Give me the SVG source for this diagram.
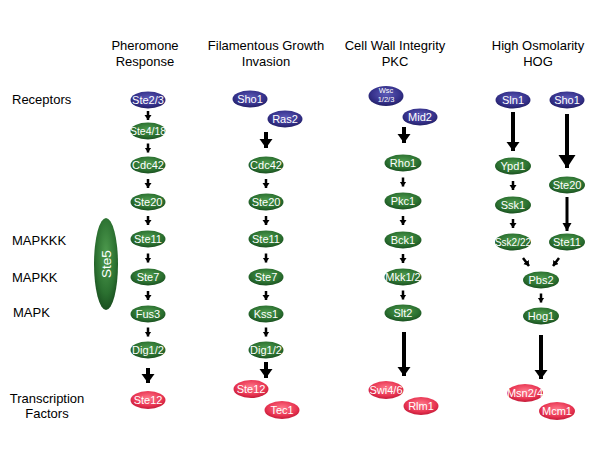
<svg xmlns="http://www.w3.org/2000/svg" width="600" height="450" viewBox="0 0 600 450">
<defs>
<radialGradient id="gG" cx="50%" cy="40%" r="60%"><stop offset="0" stop-color="#4f9c4f"/><stop offset="0.7" stop-color="#2b7030"/><stop offset="1" stop-color="#1a5020"/></radialGradient>
<radialGradient id="gB" cx="50%" cy="40%" r="60%"><stop offset="0" stop-color="#5d5ab8"/><stop offset="0.7" stop-color="#35318a"/><stop offset="1" stop-color="#221f66"/></radialGradient>
<radialGradient id="gR" cx="50%" cy="40%" r="60%"><stop offset="0" stop-color="#ff7a8c"/><stop offset="0.7" stop-color="#e83552"/><stop offset="1" stop-color="#c41a38"/></radialGradient>
<marker id="hS" markerUnits="userSpaceOnUse" markerWidth="8" markerHeight="8" refX="5" refY="3.5" orient="auto"><path d="M0,0 L5,3.5 L0,7 z" fill="#000"/></marker>
<marker id="hM" markerUnits="userSpaceOnUse" markerWidth="10" markerHeight="10" refX="8" refY="4.5" orient="auto"><path d="M0,0 L8,4.5 L0,9 z" fill="#000"/></marker>
<marker id="hL" markerUnits="userSpaceOnUse" markerWidth="14" markerHeight="14" refX="9" refY="6.5" orient="auto"><path d="M0,0 L9,6.5 L0,13 z" fill="#000"/></marker>
<marker id="hX" markerUnits="userSpaceOnUse" markerWidth="16" markerHeight="18" refX="13" refY="8.5" orient="auto"><path d="M0,0 L13,8.5 L0,17 z" fill="#000"/></marker>
</defs>
<style>
.lbl{font-family:"Liberation Sans",Arial,sans-serif;font-size:13px;fill:#000}
.hd{font-family:"Liberation Sans",Arial,sans-serif;font-size:13px;fill:#000;text-anchor:middle}
.nt{font-family:"Liberation Sans",Arial,sans-serif;font-size:11px;fill:#fff;text-anchor:middle}
.nt.sm{font-size:10.5px}
.nt.xs{font-size:10px}
.nt.t{font-size:7.5px}
.nt.big{font-size:13.5px}
.g{fill:url(#gG)}
.b{fill:url(#gB)}
.r{fill:url(#gR)}
.s{stroke:#000;stroke-width:2.5;fill:none;marker-end:url(#hS)}
.m{stroke:#000;stroke-width:3;fill:none;marker-end:url(#hM)}
.L{stroke:#000;stroke-width:4;fill:none;marker-end:url(#hL)}
.X{stroke:#000;stroke-width:4;fill:none;marker-end:url(#hX)}
</style>
<rect width="600" height="450" fill="#fff"/>
<g id="headers">
<text class="hd" x="145" y="50">Pheromone</text><text class="hd" x="145" y="66">Response</text>
<text class="hd" x="266" y="50">Filamentous Growth</text><text class="hd" x="266" y="66">Invasion</text>
<text class="hd" x="395" y="50">Cell Wall Integrity</text><text class="hd" x="395" y="66">PKC</text>
<text class="hd" x="538" y="50">High Osmolarity</text><text class="hd" x="538" y="66">HOG</text>
</g>
<g id="rowlabels">
<text class="lbl" x="12" y="104">Receptors</text>
<text class="lbl" x="12" y="245">MAPKKK</text>
<text class="lbl" x="12" y="282">MAPKK</text>
<text class="lbl" x="13" y="317">MAPK</text>
<text class="lbl" x="47" y="403" text-anchor="middle">Transcription</text>
<text class="lbl" x="47" y="418" text-anchor="middle">Factors</text>
</g>
<g id="connectors">
<line class="s" x1="148" y1="111" x2="148" y2="120"/>
<line class="s" x1="148" y1="143.5" x2="148" y2="152.5"/>
<line class="s" x1="148" y1="179" x2="148" y2="188"/>
<line class="s" x1="148" y1="216" x2="148" y2="225"/>
<line class="s" x1="148" y1="253.5" x2="148" y2="262.5"/>
<line class="s" x1="148" y1="291" x2="148" y2="300"/>
<line class="s" x1="148" y1="327.5" x2="148" y2="336.5"/>
<line class="L" x1="148" y1="368" x2="148" y2="383"/>
<line class="L" x1="266" y1="132" x2="266" y2="148"/>
<line class="s" x1="266" y1="179" x2="266" y2="188"/>
<line class="s" x1="266" y1="216" x2="266" y2="225"/>
<line class="s" x1="266" y1="253.5" x2="266" y2="262.5"/>
<line class="s" x1="266" y1="291" x2="266" y2="300"/>
<line class="s" x1="266" y1="327.5" x2="266" y2="336.5"/>
<line class="L" x1="266" y1="362" x2="266" y2="378"/>
<line class="L" x1="404" y1="127" x2="404" y2="143"/>
<line class="s" x1="403" y1="177.5" x2="403" y2="186.5"/>
<line class="s" x1="403" y1="216" x2="403" y2="225"/>
<line class="s" x1="403" y1="254" x2="403" y2="263"/>
<line class="s" x1="403" y1="290.5" x2="403" y2="299.5"/>
<line class="L" x1="404" y1="332" x2="404" y2="376"/>
<line class="L" x1="513" y1="112" x2="513" y2="151"/>
<line class="s" x1="513" y1="181" x2="513" y2="190"/>
<line class="s" x1="513" y1="219" x2="513" y2="228"/>
<line class="X" x1="567" y1="114" x2="567" y2="168"/>
<line class="m" x1="567" y1="197" x2="567" y2="231"/>
<line class="s" x1="523" y1="258" x2="529" y2="266"/>
<line class="s" x1="559" y1="258" x2="553" y2="266"/>
<line class="s" x1="541" y1="293.5" x2="541" y2="302.5"/>
<line class="L" x1="541" y1="335" x2="541" y2="379"/>
</g>
<g id="n_ste5"><ellipse class="g" cx="106" cy="264" rx="12" ry="46"/><text class="nt big" transform="translate(110.5,264) rotate(-90)">Ste5</text></g>
<g id="n_ste23"><ellipse class="b" cx="148" cy="100" rx="17.5" ry="8.5"/><text class="nt" x="148" y="104">Ste2/3</text></g>
<g id="n_ste418"><ellipse class="g" cx="148" cy="131" rx="17.5" ry="8.5"/><text class="nt sm" x="148" y="134.5">Ste4/18</text></g>
<g id="n_cdc42a"><ellipse class="g" cx="148" cy="165" rx="17.5" ry="8.5"/><text class="nt" x="148" y="169">Cdc42</text></g>
<g id="n_ste20a"><ellipse class="g" cx="148" cy="202" rx="17.5" ry="8.5"/><text class="nt" x="148" y="206">Ste20</text></g>
<g id="n_ste11a"><ellipse class="g" cx="148" cy="239" rx="17.5" ry="8.5"/><text class="nt" x="148" y="243">Ste11</text></g>
<g id="n_ste7a"><ellipse class="g" cx="148" cy="277" rx="17.5" ry="8.5"/><text class="nt" x="148" y="281">Ste7</text></g>
<g id="n_fus3"><ellipse class="g" cx="148" cy="314" rx="17.5" ry="8.5"/><text class="nt" x="148" y="318">Fus3</text></g>
<g id="n_dig12a"><ellipse class="g" cx="148" cy="350" rx="17.5" ry="8.5"/><text class="nt" x="148" y="354">Dig1/2</text></g>
<g id="n_ste12a"><ellipse class="r" cx="148" cy="400" rx="17.5" ry="9"/><text class="nt" x="148" y="404">Ste12</text></g>
<g id="n_sho1a"><ellipse class="b" cx="250" cy="99" rx="17.5" ry="8.5"/><text class="nt" x="250" y="103">Sho1</text></g>
<g id="n_ras2"><ellipse class="b" cx="285" cy="119" rx="17.5" ry="8.5"/><text class="nt" x="285" y="123">Ras2</text></g>
<g id="n_cdc42b"><ellipse class="g" cx="266" cy="165" rx="17.5" ry="8.5"/><text class="nt" x="266" y="169">Cdc42</text></g>
<g id="n_ste20b"><ellipse class="g" cx="266" cy="202" rx="17.5" ry="8.5"/><text class="nt" x="266" y="206">Ste20</text></g>
<g id="n_ste11b"><ellipse class="g" cx="266" cy="239" rx="17.5" ry="8.5"/><text class="nt" x="266" y="243">Ste11</text></g>
<g id="n_ste7b"><ellipse class="g" cx="266" cy="277" rx="17.5" ry="8.5"/><text class="nt" x="266" y="281">Ste7</text></g>
<g id="n_kss1"><ellipse class="g" cx="266" cy="314" rx="17.5" ry="8.5"/><text class="nt" x="266" y="318">Kss1</text></g>
<g id="n_dig12b"><ellipse class="g" cx="266" cy="350" rx="17.5" ry="8.5"/><text class="nt" x="266" y="354">Dig1/2</text></g>
<g id="n_ste12b"><ellipse class="r" cx="251" cy="389" rx="17.5" ry="9"/><text class="nt" x="251" y="393">Ste12</text></g>
<g id="n_tec1"><ellipse class="r" cx="282" cy="410" rx="17.5" ry="9"/><text class="nt" x="282" y="414">Tec1</text></g>
<g id="n_wsc"><ellipse class="b" cx="386" cy="96" rx="17.5" ry="10"/><text class="nt t" x="386" y="92.5">Wsc</text><text class="nt t" x="386" y="101.5">1/2/3</text></g>
<g id="n_mid2"><ellipse class="b" cx="420" cy="117" rx="17.5" ry="8.5"/><text class="nt" x="420" y="121">Mid2</text></g>
<g id="n_rho1"><ellipse class="g" cx="403" cy="163" rx="18.5" ry="8.5"/><text class="nt" x="403" y="167">Rho1</text></g>
<g id="n_pkc1"><ellipse class="g" cx="403" cy="201" rx="18.5" ry="8.5"/><text class="nt" x="403" y="205">Pkc1</text></g>
<g id="n_bck1"><ellipse class="g" cx="403" cy="240" rx="18.5" ry="8.5"/><text class="nt" x="403" y="244">Bck1</text></g>
<g id="n_mkk12"><ellipse class="g" cx="403" cy="277" rx="18.5" ry="8.5"/><text class="nt" x="403" y="281">Mkk1/2</text></g>
<g id="n_slt2"><ellipse class="g" cx="403" cy="313" rx="18.5" ry="8.5"/><text class="nt" x="403" y="317">Slt2</text></g>
<g id="n_swi46"><ellipse class="r" cx="386" cy="390" rx="17.5" ry="9"/><text class="nt" x="386" y="394">Swi4/6</text></g>
<g id="n_rlm1"><ellipse class="r" cx="421" cy="406" rx="17.5" ry="9"/><text class="nt" x="421" y="410">Rlm1</text></g>
<g id="n_sln1"><ellipse class="b" cx="513" cy="100" rx="17.5" ry="8.5"/><text class="nt" x="513" y="104">Sln1</text></g>
<g id="n_sho1b"><ellipse class="b" cx="567" cy="100" rx="17.5" ry="8.5"/><text class="nt" x="567" y="104">Sho1</text></g>
<g id="n_ypd1"><ellipse class="g" cx="513" cy="166" rx="18" ry="8.5"/><text class="nt" x="513" y="170">Ypd1</text></g>
<g id="n_ssk1"><ellipse class="g" cx="513" cy="205" rx="18" ry="8.5"/><text class="nt" x="513" y="209">Ssk1</text></g>
<g id="n_ssk222"><ellipse class="g" cx="513" cy="242" rx="18" ry="8.5"/><text class="nt xs" x="513" y="245.5">Ssk2/22</text></g>
<g id="n_ste20c"><ellipse class="g" cx="567" cy="185" rx="18" ry="8.5"/><text class="nt" x="567" y="189">Ste20</text></g>
<g id="n_ste11c"><ellipse class="g" cx="567" cy="242" rx="18" ry="8.5"/><text class="nt" x="567" y="246">Ste11</text></g>
<g id="n_pbs2"><ellipse class="g" cx="541" cy="280" rx="18" ry="8.5"/><text class="nt" x="541" y="284">Pbs2</text></g>
<g id="n_hog1"><ellipse class="g" cx="541" cy="316" rx="18" ry="8.5"/><text class="nt" x="541" y="320">Hog1</text></g>
<g id="n_msn24"><ellipse class="r" cx="525" cy="393" rx="18" ry="9"/><text class="nt" x="525" y="397">Msn2/4</text></g>
<g id="n_mcm1"><ellipse class="r" cx="557" cy="411" rx="18" ry="9"/><text class="nt" x="557" y="415">Mcm1</text></g>
</svg>
